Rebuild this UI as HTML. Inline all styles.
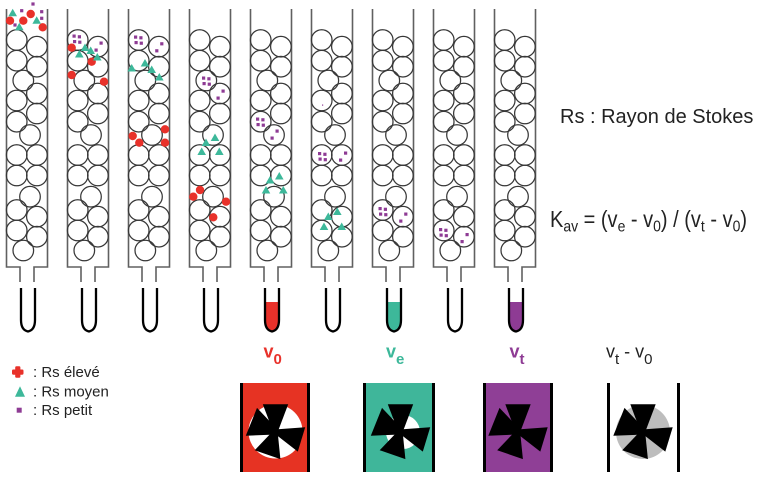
<!DOCTYPE html>
<html>
<head>
<meta charset="utf-8">
<style>
html,body{margin:0;padding:0;background:#fff;}
svg{display:block;}
text{font-family:"Liberation Sans",Arial,sans-serif;white-space:pre;}
</style>
</head>
<body>
<svg width="760" height="482" viewBox="0 0 760 482" xmlns="http://www.w3.org/2000/svg">
<defs>
  <g id="col">
    <path d="M0,9 V267 H13.5 V282 M41,9 V267 H27.5 V282" fill="none" stroke="#606060" stroke-width="1.6"/>
    <g fill="none" stroke="#383838" stroke-width="1.25">
      <circle cx="10.2" cy="40" r="10.3"/>
      <circle cx="30.4" cy="46.7" r="10.3"/>
      <circle cx="10.2" cy="60.7" r="10.3"/>
      <circle cx="30.4" cy="66.7" r="10.3"/>
      <circle cx="16.8" cy="80.5" r="10.3"/>
      <circle cx="30.4" cy="93.5" r="10.3"/>
      <circle cx="10.2" cy="100.5" r="10.3"/>
      <circle cx="30.4" cy="113.5" r="10.3"/>
      <circle cx="10.2" cy="121.7" r="10.3"/>
      <circle cx="23.5" cy="135" r="10.3"/>
      <circle cx="10.2" cy="155" r="10.3"/>
      <circle cx="30.4" cy="155" r="10.3"/>
      <circle cx="10.2" cy="175.5" r="10.3"/>
      <circle cx="30.4" cy="175.5" r="10.3"/>
      <circle cx="23.5" cy="196.7" r="10.3"/>
      <circle cx="10.2" cy="210" r="10.3"/>
      <circle cx="30.4" cy="216.7" r="10.3"/>
      <circle cx="10.2" cy="230.5" r="10.3"/>
      <circle cx="30.4" cy="236.7" r="10.3"/>
      <circle cx="16.8" cy="250.5" r="10.3"/>
    </g>
  </g>
  <path id="tube" d="M14.5,288 V320 Q14.5,330 21.5,331.5 Q28.5,330 28.5,320 V288" fill="none" stroke="#000" stroke-width="2.3"/>
  <path id="liq" d="M14.5,302 V320 Q14.5,330 21.5,331.5 Q28.5,330 28.5,320 V302 Z"/>
  <g id="dotsL" fill="#8e3b94">
    <rect x="-4.5" y="-4.5" width="3.2" height="3.2"/>
    <rect x="0.8" y="-3.8" width="3.2" height="3.2"/>
    <rect x="-4" y="1" width="3.2" height="3.2"/>
    <rect x="1.2" y="1.6" width="3.2" height="3.2"/>
  </g>
  <g id="dotsR" fill="#8e3b94">
    <rect x="1.5" y="-4.5" width="3.2" height="3.2"/>
    <rect x="-3.5" y="2.5" width="3.2" height="3.2"/>
  </g>
  <circle id="rb" r="4.2" fill="#e8312a"/>
  <polygon id="tri" points="0,-4.5 -4.3,3 4.3,3" fill="#3db89a"/>
  <rect id="sq" x="-1.6" y="-1.6" width="3.2" height="3.2" fill="#8e3b94"/>
  <g id="blades" fill="#000">
    <polygon points="-2,1 -12.7,-27.2 12.7,-27.2 2,1"/>
    <polygon points="-1,-2 29.7,-4.2 22.3,20.1 -1,2"/>
    <polygon points="2,-1 4.9,27.6 -20.8,18.7 -2,-1"/>
    <polygon points="1,3 -29.7,4.2 -18.5,-23.6 1,-3"/>
  </g>
</defs>

<!-- columns -->
<use href="#col" x="6.5" y="0"/>
<use href="#col" x="67.5" y="0"/>
<use href="#col" x="128.5" y="0"/>
<use href="#col" x="189.5" y="0"/>
<use href="#col" x="250.5" y="0"/>
<use href="#col" x="311.5" y="0"/>
<use href="#col" x="372.5" y="0"/>
<use href="#col" x="433.5" y="0"/>
<use href="#col" x="494.5" y="0"/>

<!-- tubes -->
<use href="#liq" x="250.5" y="0" fill="#e8312a"/>
<use href="#liq" x="372.5" y="0" fill="#3db89a"/>
<use href="#liq" x="494.5" y="0" fill="#8e3b94"/>
<use href="#tube" x="6.5" y="0"/>
<use href="#tube" x="67.5" y="0"/>
<use href="#tube" x="128.5" y="0"/>
<use href="#tube" x="189.5" y="0"/>
<use href="#tube" x="250.5" y="0"/>
<use href="#tube" x="311.5" y="0"/>
<use href="#tube" x="372.5" y="0"/>
<use href="#tube" x="433.5" y="0"/>
<use href="#tube" x="494.5" y="0"/>

<!-- column 1 markers -->
<use href="#rb" x="30.7" y="14"/>
<use href="#rb" x="10" y="20.7"/>
<use href="#rb" x="23.3" y="20.7"/>
<use href="#rb" x="42.7" y="27.3"/>
<use href="#tri" x="12.7" y="13.3"/>
<use href="#tri" x="36.7" y="20.7"/>
<use href="#tri" x="19.3" y="27.3"/>
<use href="#sq" x="21.7" y="10.7"/>
<use href="#sq" x="41.7" y="11.7"/>
<use href="#sq" x="41.7" y="18.3"/>
<use href="#sq" x="15" y="25"/>
<use href="#sq" x="33" y="4"/>

<!-- column 2 -->
<use href="#dotsL" x="77" y="39"/>
<use href="#dotsR" x="98" y="46"/>
<use href="#rb" x="71.7" y="47.7"/>
<use href="#rb" x="91.7" y="61.7"/>
<use href="#rb" x="71.7" y="75"/>
<use href="#rb" x="104" y="81.7"/>
<use href="#tri" x="79.3" y="54.5"/>
<use href="#tri" x="85" y="48"/>
<use href="#tri" x="90.7" y="51"/>
<use href="#tri" x="97.3" y="57.5"/>

<!-- column 3 -->
<use href="#dotsL" x="138.5" y="40"/>
<use href="#dotsR" x="158.7" y="46.7"/>
<use href="#tri" x="131.7" y="68.5"/>
<use href="#tri" x="145" y="63.5"/>
<use href="#tri" x="151.7" y="70"/>
<use href="#tri" x="159.3" y="77.5"/>
<use href="#rb" x="132.7" y="136"/>
<use href="#rb" x="139.3" y="142.7"/>
<use href="#rb" x="165" y="129.3"/>
<use href="#rb" x="165" y="142.7"/>

<!-- column 4 -->
<use href="#dotsL" x="206.5" y="81"/>
<use href="#dotsR" x="220" y="94"/>
<use href="#tri" x="206" y="143"/>
<use href="#tri" x="215" y="138"/>
<use href="#tri" x="201.7" y="152"/>
<use href="#tri" x="219.3" y="152"/>
<use href="#rb" x="200" y="190"/>
<use href="#rb" x="193.3" y="196.7"/>
<use href="#rb" x="226" y="201.7"/>
<use href="#rb" x="213.3" y="217.3"/>

<!-- column 5 -->
<use href="#dotsL" x="260.5" y="122"/>
<use href="#dotsR" x="274" y="134"/>
<use href="#tri" x="270" y="180.5"/>
<use href="#tri" x="279.3" y="176.5"/>
<use href="#tri" x="266" y="190.5"/>
<use href="#tri" x="283.3" y="190.5"/>

<!-- column 6 -->
<rect x="322" y="104.5" width="1.2" height="1.2" fill="#8e3b94"/>
<use href="#dotsL" x="322.5" y="156.5"/>
<use href="#dotsR" x="342.5" y="156"/>
<use href="#tri" x="328.3" y="217"/>
<use href="#tri" x="337.3" y="212"/>
<use href="#tri" x="324" y="227"/>
<use href="#tri" x="341.7" y="227"/>

<!-- column 7 -->
<use href="#dotsL" x="383" y="211.5"/>
<use href="#dotsR" x="402.7" y="217"/>

<!-- column 8 -->
<use href="#dotsL" x="443.5" y="232.5"/>
<use href="#dotsR" x="464" y="237.5"/>

<!-- right texts -->
<text x="560" y="123" font-size="20" fill="#222">Rs : Rayon de Stokes</text>
<g transform="translate(0,227) scale(1,1.15) translate(0,-227)">
<text x="550" y="227" font-size="20" fill="#222">K<tspan dy="4" font-size="14">av</tspan><tspan dy="-4"> = (v</tspan><tspan dy="4" font-size="14">e</tspan><tspan dy="-4"> - v</tspan><tspan dy="4" font-size="14">0</tspan><tspan dy="-4">) / (v</tspan><tspan dy="4" font-size="14">t</tspan><tspan dy="-4"> - v</tspan><tspan dy="4" font-size="14">0</tspan><tspan dy="-4">)</tspan></text>
</g>

<!-- legend -->
<rect x="12" y="369.5" width="11.5" height="5.2" rx="1.2" fill="#e8312a"/>
<rect x="15.2" y="366.3" width="5.2" height="11.5" rx="1.2" fill="#e8312a"/>
<text x="33" y="377" font-size="15" fill="#222">: Rs élevé</text>
<polygon points="20,386.3 15,396.7 25,396.7" fill="#3db89a"/>
<text x="33" y="396.7" font-size="15" fill="#222">: Rs moyen</text>
<rect x="16.7" y="407.7" width="5" height="5" fill="#8e3b94"/>
<text x="33" y="415" font-size="15" fill="#222">: Rs petit</text>

<!-- bottom labels -->
<text x="263.5" y="357.5" font-size="18" font-weight="bold" fill="#e8312a">v<tspan dy="6.5" font-size="15">0</tspan></text>
<text x="386" y="357.5" font-size="18" font-weight="bold" fill="#3db89a">v<tspan dy="6.5" font-size="15">e</tspan></text>
<text x="509.5" y="357.5" font-size="18" font-weight="bold" fill="#8e3b94">v<tspan dy="6.5" font-size="15">t</tspan></text>
<text x="606" y="357.5" font-size="18" fill="#222">v<tspan dy="6.5" font-size="15">t</tspan><tspan dy="-6.5"> - v</tspan><tspan dy="6.5" font-size="15">0</tspan></text>

<!-- boxes -->
<rect x="240" y="383" width="70" height="89" fill="#e63323"/>
<rect x="240" y="383" width="3" height="89" fill="#000"/>
<rect x="307" y="383" width="3" height="89" fill="#000"/>
<circle cx="275.5" cy="431.5" r="27" fill="#fff"/>
<use href="#blades" x="275.5" y="431.5"/>

<rect x="363" y="383" width="72" height="89" fill="#3fb69a"/>
<rect x="363" y="383" width="3" height="89" fill="#000"/>
<rect x="432" y="383" width="3" height="89" fill="#000"/>
<circle cx="403" cy="432" r="17" fill="#fff"/>
<use href="#blades" x="400.5" y="431.5"/>

<rect x="483" y="383" width="70" height="89" fill="#8f3f96"/>
<rect x="483" y="383" width="3" height="89" fill="#000"/>
<rect x="550" y="383" width="3" height="89" fill="#000"/>
<use href="#blades" x="518" y="431.5"/>

<rect x="607" y="383" width="3" height="89" fill="#000"/>
<rect x="677" y="383" width="3" height="89" fill="#000"/>
<circle cx="643" cy="432" r="27" fill="#bdbdbd"/>
<use href="#blades" x="643" y="431.5"/>
</svg>
</body>
</html>
